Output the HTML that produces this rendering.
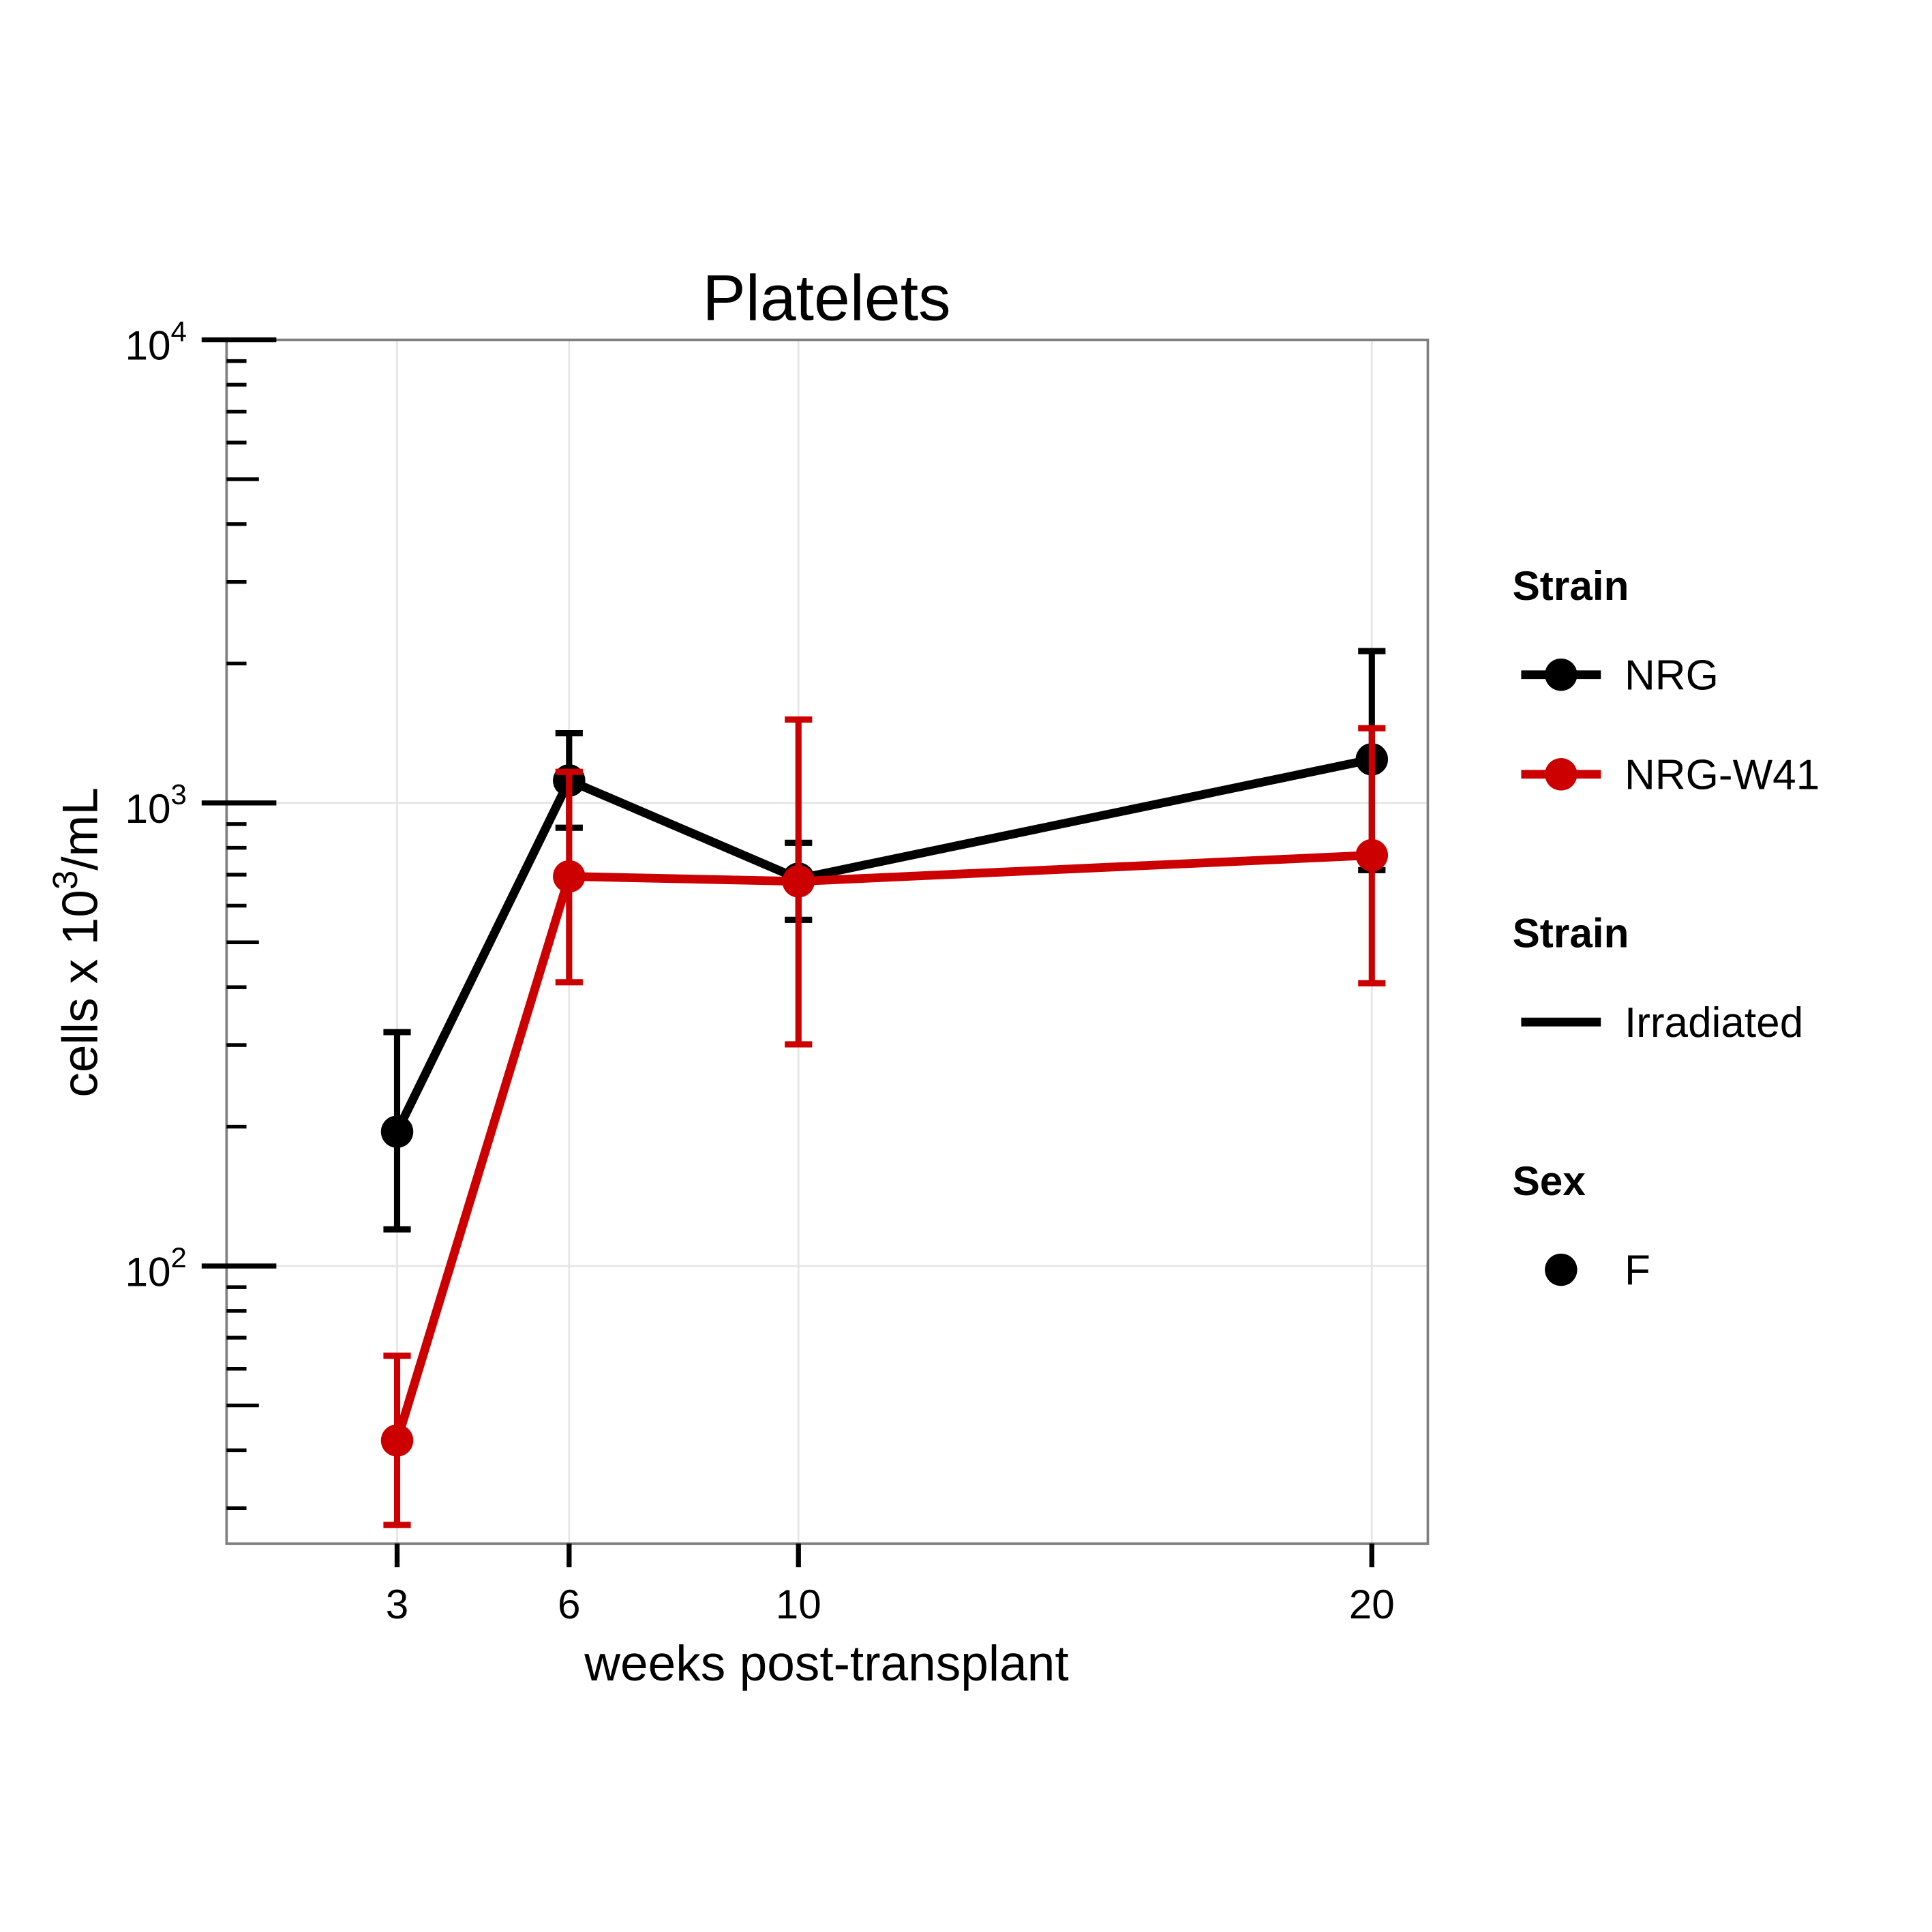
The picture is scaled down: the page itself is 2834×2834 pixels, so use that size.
<!DOCTYPE html>
<html><head><meta charset="utf-8"><style>html,body{margin:0;padding:0;background:#fff}svg{display:block}</style></head>
<body>
<svg id="chart" width="2834" height="2834" viewBox="0 0 1552 1552" xmlns="http://www.w3.org/2000/svg" font-family="Liberation Sans, Arial, sans-serif">
<rect width="1552" height="1552" fill="#fff"/>
<text x="664" y="257" font-size="52" text-anchor="middle">Platelets</text>
<g id="grid"></g>
<rect x="182" y="273" width="965" height="967" fill="none" stroke="#7f7f7f" stroke-width="2"/>
<g id="axes"></g>
<g id="marks"></g>
<text x="664" y="1350" font-size="40" text-anchor="middle">weeks post-transplant</text>
<text transform="translate(78,757) rotate(-90)" font-size="40" text-anchor="middle">cells x 10<tspan dy="-16" font-size="28">3</tspan><tspan dy="16">/mL</tspan></text>
<g font-size="34">
<text x="1215" y="482" font-weight="bold" font-size="33">Strain</text>
<g><line x1="1222" y1="542" x2="1286" y2="542" stroke="#000" stroke-width="7"/><circle cx="1254" cy="542" r="13" fill="#000"/><text x="1305" y="554">NRG</text></g>
<g><line x1="1222" y1="622" x2="1286" y2="622" stroke="#cc0000" stroke-width="7"/><circle cx="1254" cy="622" r="13" fill="#cc0000"/><text x="1305" y="634">NRG-W41</text></g>
<text x="1215" y="761" font-weight="bold" font-size="33">Strain</text>
<g><line x1="1222" y1="821" x2="1286" y2="821" stroke="#000" stroke-width="7"/><text x="1305" y="833">Irradiated</text></g>
<text x="1215" y="960" font-weight="bold" font-size="33">Sex</text>
<g><circle cx="1254" cy="1020" r="13" fill="#000"/><text x="1305" y="1032">F</text></g>
</g>
<script>
const weeks=[3,6,10,20];
const nrgMean=[195,1118,686,1242];
const nrgLow=[120,884,559,716];
const nrgHigh=[320,1414,820,2128];
const w41Mean=[42,694,677,771];
const w41Low=[27.6,410,301,408];
const w41High=[64,1167,1514,1450];
const xTicks=[3,6,10,20];
const yMajor=[100,1000,10000];
const yMinor=[30,40,50,60,70,80,90,200,300,400,500,600,700,800,900,2000,3000,4000,5000,6000,7000,8000,9000];

const NS='http://www.w3.org/2000/svg';
function X(v){return 319+(v-3)*(1102-319)/17;}
function Y(v){return 645-(Math.log10(v)-3)*372;}
function mk(p,tag,at){const e=document.createElementNS(NS,tag);for(const k in at)e.setAttribute(k,at[k]);p.appendChild(e);return e;}
const grid=document.getElementById('grid'),axes=document.getElementById('axes'),marks=document.getElementById('marks');
xTicks.forEach(t=>{
  const g=mk(grid,'line',{x1:X(t),x2:X(t),y1:273,y2:1240,stroke:'#e5e5e5','stroke-width':1.5});
  
  
  const k=mk(axes,'line',{x1:X(t),x2:X(t),y1:1240,y2:1259,stroke:'#000','stroke-width':4});
  
  
  const l=mk(axes,'text',{x:X(t),y:1300,'font-size':33,'text-anchor':'middle'});l.textContent=t;
  
  
});
yMajor.forEach(v=>{
  const g=mk(grid,'line',{x1:182,x2:1147,y1:Y(v),y2:Y(v),stroke:'#e5e5e5','stroke-width':1.5});
  
  
  const k=mk(axes,'line',{x1:162,x2:222,y1:Y(v),y2:Y(v),stroke:'#000','stroke-width':4});
  
  
  const l=mk(axes,'text',{x:150,y:Y(v)+16,'font-size':33,'text-anchor':'end'});
  
  
  const a=mk(l,'tspan',{});a.textContent='10';
  const b=mk(l,'tspan',{dy:-15,'font-size':23});b.textContent=String(Math.round(Math.log10(v)));
});
yMinor.forEach(v=>{
  const five=String(v)[0]==='5';
  const k=mk(axes,'line',{x1:182,x2:five?208:198,y1:Y(v),y2:Y(v),stroke:'#000','stroke-width':3});
  
  
});
function series(mean,lo,hi,col,name){
  const g=mk(marks,'g',{});
  
  
  const p=mk(g,'polyline',{points:weeks.map((w,i)=>X(w)+','+Y(mean[i])).join(' '),fill:'none',stroke:col,'stroke-width':7,'stroke-linejoin':'round'});
  
  
  weeks.forEach((w,i)=>{
    const x=X(w);
    const e=mk(g,'path',{d:`M${x},${Y(lo[i])}V${Y(hi[i])}M${x-11},${Y(lo[i])}H${x+11}M${x-11},${Y(hi[i])}H${x+11}`,stroke:col,'stroke-width':5,fill:'none'});
    
    
  });
  weeks.forEach((w,i)=>{
    const c=mk(g,'circle',{cx:X(w),cy:Y(mean[i]),r:13,fill:col});
    
    
  });
}
series(nrgMean,nrgLow,nrgHigh,'#000','nrg');
series(w41Mean,w41Low,w41High,'#cc0000','nrg-w41');
</script>
</svg>
</body></html>
